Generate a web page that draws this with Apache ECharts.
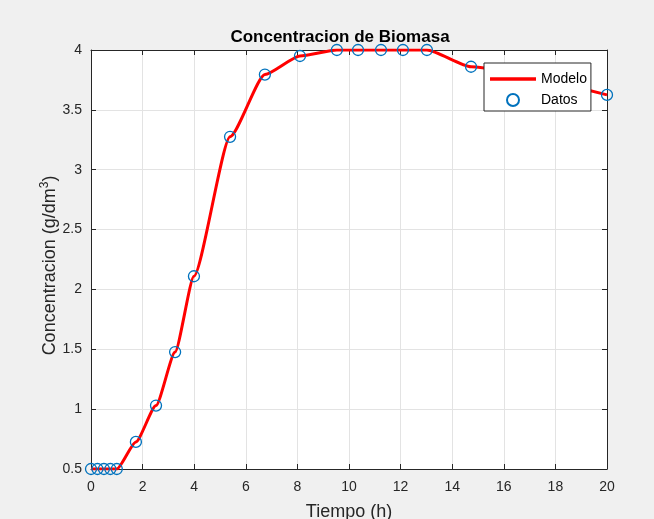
<!DOCTYPE html>
<html>
<head>
<meta charset="utf-8">
<script src="https://cdn.jsdelivr.net/npm/echarts@6/dist/echarts.min.js"></script>
<style>
html,body{margin:0;padding:0;background:#f0f0f0;}
#c{width:654px;height:519px;}
</style>
</head>
<body>
<div id="c"></div>
<script>
var tiempo = [0, 0.25, 0.5, 0.75, 1.0, 1.74, 2.52, 3.26, 3.99, 5.39, 6.74, 8.1, 9.53, 10.35, 11.24, 12.09, 13.02, 14.73, 20];
var datos  = [0.5, 0.5, 0.5, 0.5, 0.5, 0.726, 1.03, 1.477, 2.11, 3.275, 3.795, 3.95, 4.0, 4.0, 4.0, 4.0, 4.0, 3.86, 3.625];
var modelo = [0.5, 0.5, 0.5, 0.5, 0.5, 0.726, 1.03, 1.477, 2.11, 3.275, 3.795, 3.95, 4.0, 4.0, 4.0, 4.0, 4.0, 3.86, 3.625];
var xTicks = [0, 2, 4, 6, 8, 10, 12, 14, 16, 18, 20];
var yTicks = [0.5, 1, 1.5, 2, 2.5, 3, 3.5, 4];

function pairs(xs, ys){ return xs.map(function(x,i){ return [x, ys[i]]; }); }

var font = "'Liberation Sans', Arial, Helvetica, sans-serif";
var axisCol = '#262626';
var chart = echarts.init(document.getElementById('c'));
chart.setOption({
  backgroundColor: '#f0f0f0',
  animation: false,
  title: {
    text: 'Concentracion de Biomasa',
    left: 335, top: 24, textAlign: 'center',
    textStyle: {fontFamily: font, fontSize: 17, fontWeight: 'bold', color: '#000'}
  },
  grid: {left: 91, right: 47, top: 50, bottom: 50, show: true, backgroundColor: '#ffffff', borderWidth: 0,
    containLabel: false, outerBoundsMode: 'none'},
  legend: {
    left: 484, top: 63, orient: 'vertical',
    backgroundColor: '#ffffff', borderColor: axisCol, borderWidth: 1,
    padding: [9, 4, 4, 6], itemGap: 7, itemWidth: 46, itemHeight: 12,
    textStyle: {fontFamily: font, fontSize: 14, color: '#000'},
    data: [
      {name: 'Modelo', icon: 'path://M0,0 H40 V3 H0 Z', itemStyle: {color: '#ff0000'}},
      {name: 'Datos', icon: 'circle'}
    ]
  },
  xAxis: [{
    type: 'value', min: 0, max: 20, interval: 2, position: 'bottom',
    name: 'Tiempo (h)', nameLocation: 'middle', nameGap: 34, nameMoveOverlap: false,
    nameTextStyle: {fontFamily: font, fontSize: 18, color: axisCol},
    axisLine: {show: true, onZero: false, lineStyle: {color: axisCol, width: 1}},
    axisTick: {show: true, inside: true, length: 5, lineStyle: {color: axisCol}},
    axisLabel: {fontFamily: font, fontSize: 14, color: axisCol, margin: 11,
      formatter: function(v){ return xTicks.indexOf(v) >= 0 ? String(v) : ''; }},
    splitLine: {show: true, lineStyle: {color: '#e3e3e3', width: 1}}
  }, {
    type: 'value', min: 0, max: 20, interval: 2, position: 'top',
    axisLine: {show: true, onZero: false, lineStyle: {color: axisCol, width: 1}},
    axisTick: {show: true, inside: true, length: 5, lineStyle: {color: axisCol}},
    axisLabel: {show: false}, splitLine: {show: false}
  }],
  yAxis: [{
    type: 'value', min: 0.5, max: 4, interval: 0.5, position: 'left',
    name: '{a|Concentracion (g/dm}{s|3}{a|)}', nameLocation: 'middle', nameGap: 30, nameRotate: 90,
    nameMoveOverlap: false,
    nameTextStyle: {fontFamily: font, fontSize: 18, color: axisCol, padding: [0, 12, 0, 0],
      rich: {
        a: {fontFamily: font, fontSize: 18, color: axisCol},
        s: {fontFamily: font, fontSize: 12, color: axisCol, padding: [0, 0, 10, 0]}
      }},
    axisLine: {show: true, onZero: false, lineStyle: {color: axisCol, width: 1}},
    axisTick: {show: true, inside: true, length: 5, lineStyle: {color: axisCol}},
    axisLabel: {fontFamily: font, fontSize: 14, color: axisCol, margin: 9, padding: [6, 0, 0, 0],
      formatter: function(v){ return yTicks.indexOf(v) >= 0 ? String(v) : ''; }},
    splitLine: {show: true, lineStyle: {color: '#e3e3e3', width: 1}}
  }, {
    type: 'value', min: 0.5, max: 4, interval: 0.5, position: 'right',
    axisLine: {show: true, onZero: false, lineStyle: {color: axisCol, width: 1}},
    axisTick: {show: true, inside: true, length: 5, lineStyle: {color: axisCol}},
    axisLabel: {show: false}, splitLine: {show: false}
  }],
  series: [{
    name: 'Modelo', type: 'line', data: pairs(tiempo, modelo),
    symbol: 'none', smooth: 0.2, smoothMonotone: 'x',
    lineStyle: {color: '#ff0000', width: 3}, itemStyle: {color: '#ff0000'}, z: 2
  }, {
    name: 'Datos', type: 'scatter', data: pairs(tiempo, datos),
    symbol: 'circle', symbolSize: 11,
    itemStyle: {color: 'rgba(255,255,255,0)', borderColor: '#0072BD', borderWidth: 1.3, opacity: 1},
    z: 3
  }]
});
</script>
</body>
</html>
